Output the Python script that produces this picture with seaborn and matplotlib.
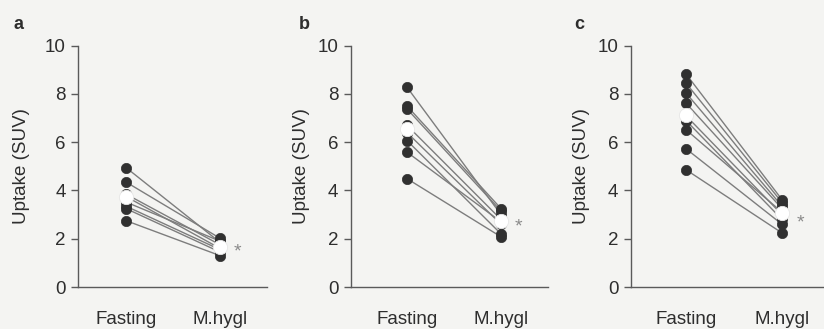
import numpy as np
import pandas as pd
import matplotlib
matplotlib.use("Agg")
import matplotlib.pyplot as plt
import seaborn as sns

# ---------------- data ----------------
conditions = ["Fasting", "M.hygl"]
panel_labels = ["a", "b", "c"]
y_ticks = [0, 2, 4, 6, 8, 10]
y_label = "Uptake (SUV)"

fasting_a = [4.95, 4.35, 3.85, 3.75, 3.52, 3.35, 3.25, 2.75]
mhygl_a = [1.85, 2.02, 1.75, 1.6, 1.9, 1.55, 1.45, 1.3]

fasting_b = [8.28, 7.5, 7.38, 6.7, 6.4, 6.07, 5.59, 4.49]
mhygl_b = [3.0, 3.25, 3.15, 2.8, 2.6, 2.2, 2.7, 2.08]

fasting_c = [8.83, 8.45, 8.04, 7.62, 7.1, 6.9, 6.52, 5.73, 4.86]
mhygl_c = [3.62, 3.5, 3.35, 3.25, 3.0, 2.8, 3.1, 2.6, 2.24]

panels = [(fasting_a, mhygl_a), (fasting_b, mhygl_b), (fasting_c, mhygl_c)]

# ---------------- style ----------------
sns.set_theme(style="ticks")
plt.rcParams['font.family'] = ['Liberation Sans', 'DejaVu Sans']

W, H = 824, 329
fig = plt.figure(figsize=(W / 100, H / 100), dpi=100)
bg = '#f4f4f2'
fig.patch.set_facecolor(bg)

# layout in pixels: (axes left, axes right, x of Fasting, x of M.hygl)
layout = [(78, 267, 126, 220), (351, 548, 407, 501), (631, 840, 686, 782)]
ax_top, ax_bot = 45.7, 287
ylabel_x = [22, 301, 581]
letter_x = [13, 299, 574]
star_y = [1.45, 2.48, 2.65]

axis_col = '#5a5a5a'
text_col = '#2e2e2e'

for i, ((fa, mh), (l, r, xf, xm)) in enumerate(zip(panels, layout)):
    ax = fig.add_axes([l / W, 1 - ax_bot / H, (r - l) / W, (ax_bot - ax_top) / H])
    ax.set_facecolor('none')
    n = len(fa)
    df = pd.DataFrame({
        'subject': list(range(n)) * 2,
        'x': [0] * n + [1] * n,
        'val': list(fa) + list(mh),
    })
    sns.lineplot(data=df, x='x', y='val', units='subject', estimator=None,
                 color='#7d7d7d', lw=1.0, ax=ax, legend=False, zorder=2)
    sns.scatterplot(data=df, x='x', y='val', color='#303030', s=55,
                    edgecolor='#303030', linewidth=0.5, ax=ax, legend=False, zorder=3)
    means = pd.DataFrame({'x': [0, 1], 'val': [np.mean(fa), np.mean(mh)]})
    sns.scatterplot(data=means, x='x', y='val', color='white', s=105,
                    edgecolor='#e6e6e6', linewidth=0.6, ax=ax, legend=False, zorder=4)
    ax.text(1.19, star_y[i], '*', color='#8a8a8a', fontsize=14,
            ha='center', va='center')

    unit = xm - xf
    ax.set_xlim((l - xf) / unit, (r - xf) / unit)
    ax.set_ylim(0, 10)
    ax.set_yticks(y_ticks)
    ax.set_xticks([0, 1])
    ax.set_xticklabels(conditions)
    ax.set_xlabel('')
    ax.set_ylabel(y_label, fontsize=13.5, color=text_col)
    ax.yaxis.label.set_va('center')
    ax.yaxis.set_label_coords((ylabel_x[i] - l) / (r - l), 0.5)
    for s in ['top', 'right']:
        ax.spines[s].set_visible(False)
    for s in ['left', 'bottom']:
        ax.spines[s].set_color(axis_col)
        ax.spines[s].set_linewidth(1.0)
    ax.tick_params(axis='y', length=5, width=1.0, color=axis_col, pad=4,
                   labelsize=13.5, labelcolor=text_col)
    ax.tick_params(axis='x', length=0, pad=17, labelsize=13.5, labelcolor=text_col)

    fig.text(letter_x[i] / W, 1 - 29 / H, panel_labels[i], fontsize=13,
             fontweight='bold', color=text_col, ha='left', va='baseline')

fig.savefig('out.png', dpi=100, facecolor=bg)
